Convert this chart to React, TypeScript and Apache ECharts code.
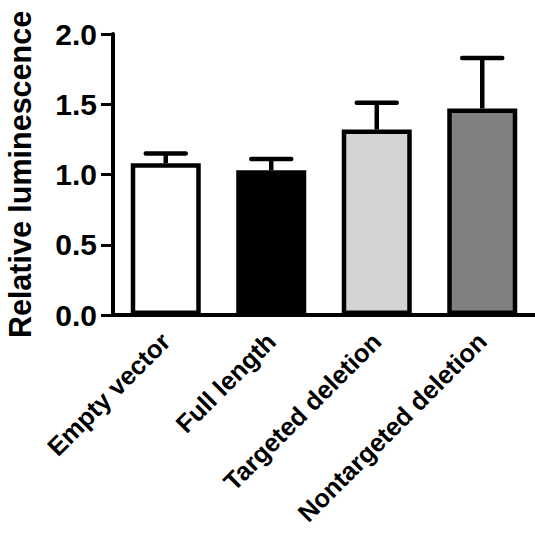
import React, { useEffect, useRef } from "react";
import * as echarts from "echarts";

const categories = ["Empty vector", "Full length", "Targeted deletion", "Nontargeted deletion"];
const means = [1.08, 1.03, 1.32, 1.47];
const errors = [0.07, 0.08, 0.19, 0.36];
const barColors = ["#ffffff", "#000000", "#d4d4d4", "#808080"];
const yTicks = { min: 0, max: 2, interval: 0.5 };

const FONT = "Liberation Sans, Arial, sans-serif";

export default function App() {
  const ref = useRef<HTMLDivElement>(null);
  useEffect(() => {
    if (!ref.current) return;
    const chart = echarts.init(ref.current, null, { renderer: "svg" });
    chart.setOption({
      animation: false,
      backgroundColor: "#ffffff",
      grid: {
        left: 113,
        right: 0,
        top: 34,
        bottom: 218,
        containLabel: false,
        outerBoundsMode: "none",
      },
      xAxis: {
        type: "category",
        data: categories,
        axisLine: { lineStyle: { color: "#000", width: 4 } },
        axisTick: { alignWithLabel: true, length: 11, lineStyle: { color: "#000", width: 3 } },
        axisLabel: {
          rotate: 45,
          margin: 22,
          interval: 0,
          color: "#000",
          fontFamily: FONT,
          fontWeight: "bold",
          fontSize: 25.5,
        },
      },
      yAxis: {
        type: "value",
        min: yTicks.min,
        max: yTicks.max,
        interval: yTicks.interval,
        name: "Relative luminescence",
        nameLocation: "middle",
        nameRotate: 90,
        nameGap: 78,
        nameTextStyle: { color: "#000", fontFamily: FONT, fontWeight: "bold", fontSize: 30.5 },
        axisLine: { show: true, lineStyle: { color: "#000", width: 4 } },
        axisTick: { show: true, length: 12, lineStyle: { color: "#000", width: 3 } },
        splitLine: { show: false },
        axisLabel: {
          margin: 16,
          color: "#000",
          fontFamily: FONT,
          fontWeight: "bold",
          fontSize: 30,
          formatter: (v: number) => v.toFixed(1),
        },
      },
      series: [
        {
          type: "custom",
          z: 1,
          data: means.map((m, i) => [i, m, m + errors[i]]),
          renderItem: (params: any, api: any) => {
            const x = api.value(0);
            const base = api.coord([x, api.value(1)]);
            const top = api.coord([x, api.value(2)]);
            return {
              type: "group",
              children: [
                {
                  type: "line",
                  shape: { x1: base[0], y1: base[1], x2: top[0], y2: top[1] },
                  style: { stroke: "#000", lineWidth: 4.5 },
                },
                {
                  type: "line",
                  shape: { x1: top[0] - 20, y1: top[1], x2: top[0] + 20, y2: top[1] },
                  style: { stroke: "#000", lineWidth: 4.5, lineCap: "round" },
                },
              ],
            };
          },
        },
        {
          type: "bar",
          z: 2,
          barWidth: 70,
          data: means.map((m, i) => ({
            value: m,
            itemStyle: { color: barColors[i], borderColor: "#000", borderWidth: 4.5 },
          })),
        },
      ],
    });
    return () => chart.dispose();
  }, []);
  return (
    <div
      ref={ref}
      style={{ position: "fixed", left: 0, top: 0, width: 535, height: 533, background: "#fff" }}
    />
  );
}
